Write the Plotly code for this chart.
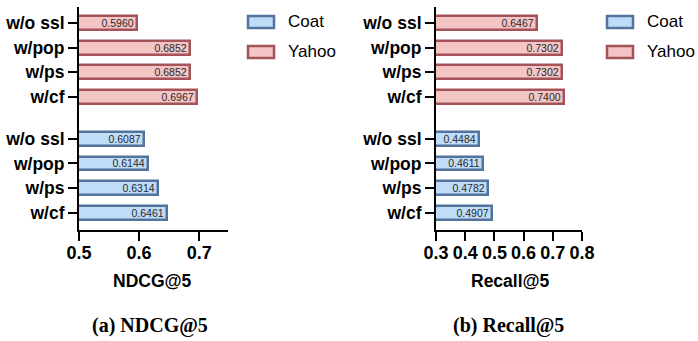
import plotly.graph_objects as go

methods = ["w/o ssl", "w/pop", "w/ps", "w/cf"]
ndcg_yahoo = [0.5960, 0.6852, 0.6852, 0.6967]
ndcg_coat = [0.6087, 0.6144, 0.6314, 0.6461]
recall_yahoo = [0.6467, 0.7302, 0.7302, 0.7400]
recall_coat = [0.4484, 0.4611, 0.4782, 0.4907]
ndcg_ticks = [0.5, 0.6, 0.7]
recall_ticks = [0.3, 0.4, 0.5, 0.6, 0.7, 0.8]

W, H = 698, 341
COAT_FILL, COAT_LINE = "#bfdcf8", "#52739c"
YAHOO_FILL, YAHOO_LINE = "#f3c5c5", "#a55258"

GAP = 1.7
yahoo_pos = [i for i in range(len(methods))]
coat_pos = [len(methods) - 1 + GAP + i for i in range(len(methods))]

def px(x):
    return x / W

def py(y):
    return 1 - y / H

fig = go.Figure()

def add_bars(xv, pos, fill, line, xa, ya, name):
    fig.add_trace(go.Bar(
        x=xv, y=pos, orientation="h", width=0.56, name=name,
        marker=dict(color=fill, line=dict(color=line, width=2.5)),
        texttemplate="%{x:.4f}", textposition="inside", insidetextanchor="end",
        textfont=dict(size=10.5, color="#2a2a2a", family="Liberation Sans"),
        constraintext="none", xaxis=xa, yaxis=ya, showlegend=False,
    ))

add_bars(ndcg_yahoo, yahoo_pos, YAHOO_FILL, YAHOO_LINE, "x", "y", "Yahoo")
add_bars(ndcg_coat, coat_pos, COAT_FILL, COAT_LINE, "x", "y", "Coat")
add_bars(recall_yahoo, yahoo_pos, YAHOO_FILL, YAHOO_LINE, "x2", "y2", "Yahoo")
add_bars(recall_coat, coat_pos, COAT_FILL, COAT_LINE, "x2", "y2", "Coat")

xfont = dict(family="Liberation Sans", size=18, color="black", weight="bold")
yfont = dict(family="Liberation Sans", size=17.5, color="black", weight="bold")
axis_common = dict(showline=True, linecolor="black", linewidth=2, ticks="outside",
                   ticklen=9, tickwidth=2, tickcolor="black", showgrid=False,
                   zeroline=False, automargin=False)

yvals = yahoo_pos + coat_pos
ytext = methods + methods
top_pad, bot_pad = 0.65, 0.7
yrange = [coat_pos[-1] + bot_pad, yahoo_pos[0] - top_pad]

fig.update_layout(
    width=W, height=H, margin=dict(l=0, r=0, t=0, b=0),
    paper_bgcolor="white", plot_bgcolor="white", bargap=0,
    xaxis=dict(domain=[px(79), px(228)], range=[0.5, 0.748], tickvals=ndcg_ticks,
               ticktext=[f"{t:g}" for t in ndcg_ticks], anchor="y", tickfont=xfont,
               ticklabelstandoff=-4, **axis_common),
    yaxis=dict(domain=[py(230), py(7)], range=yrange, tickvals=yvals, ticktext=ytext,
               anchor="x", tickfont=yfont, **axis_common),
    xaxis2=dict(domain=[px(436), px(582)], range=[0.3, 0.8], tickvals=recall_ticks,
                ticktext=[f"{t:g}" for t in recall_ticks], anchor="y2", tickfont=xfont,
                ticklabelstandoff=-4, **axis_common),
    yaxis2=dict(domain=[py(230), py(7)], range=yrange, tickvals=yvals, ticktext=ytext,
                anchor="x2", tickfont=yfont, **axis_common),
    showlegend=False,
)

shapes = []
annotations = []
for lx in (248, 607):
    for name, cy, fill, line in (("Coat", 22, COAT_FILL, COAT_LINE), ("Yahoo", 52, YAHOO_FILL, YAHOO_LINE)):
        shapes.append(dict(type="rect", xref="paper", yref="paper",
                           x0=px(lx), x1=px(lx + 26), y0=py(cy + 6), y1=py(cy - 6),
                           fillcolor=fill, line=dict(color=line, width=2.5)))
        annotations.append(dict(text=name, xref="paper", yref="paper", x=px(lx + 38), y=py(cy),
                                xanchor="left", yanchor="middle", showarrow=False,
                                font=dict(family="Liberation Sans", size=17, color="black")))

for txt, cx in (("NDCG@5", 152), ("Recall@5", 510)):
    annotations.append(dict(text=txt, xref="paper", yref="paper", x=px(cx), y=py(281),
                            xanchor="center", yanchor="middle", showarrow=False,
                            font=dict(family="Liberation Sans", size=17.5, color="black", weight="bold")))
for txt, cx in (("(a) NDCG@5", 150), ("(b) Recall@5", 508)):
    annotations.append(dict(text=txt, xref="paper", yref="paper", x=px(cx), y=py(325),
                            xanchor="center", yanchor="middle", showarrow=False,
                            font=dict(family="Liberation Serif", size=20, color="black", weight="bold")))

fig.update_layout(shapes=shapes, annotations=annotations)

fig.write_html("out.html", config={"displayModeBar": False},
               post_script="document.body.style.margin='0';document.body.style.overflow='hidden';")
